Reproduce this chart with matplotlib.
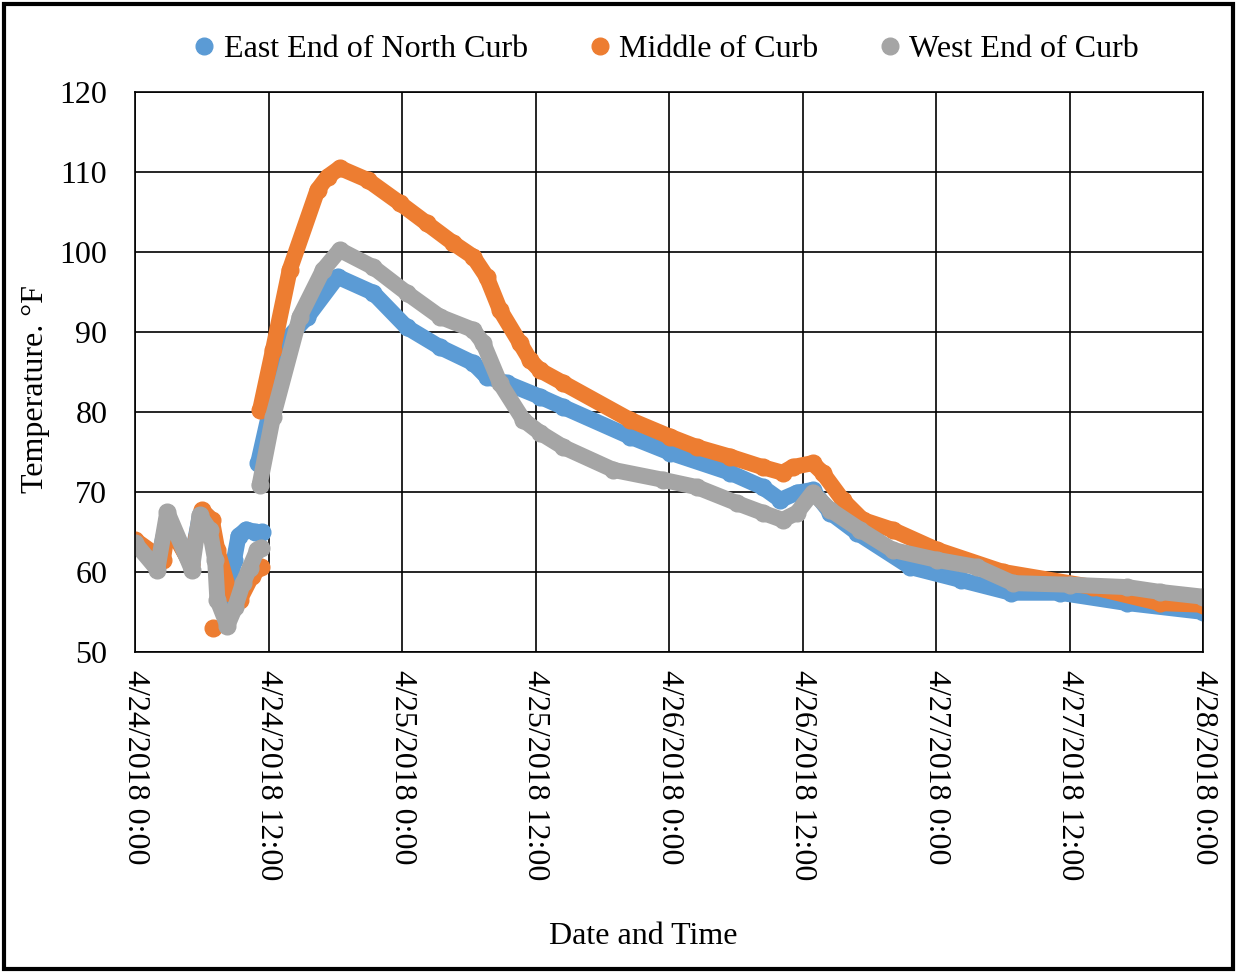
import numpy as np
import matplotlib
matplotlib.use("Agg")
import matplotlib.pyplot as plt
from matplotlib.lines import Line2D
from matplotlib.patches import Rectangle

plt.rcParams['font.family'] = ['Liberation Serif', 'DejaVu Serif']

# hours after 4/24/2018 0:00 (nan = gap in the record)
east_hours = [0, 2.0, 2.9, 5.0, 5.8, 6.4, 7.3, 7.6, 8.4, 8.9, 9.3, 10.0, 10.8, 11.4, np.nan,
              11.06, 12.1, 13.3, 15.5, 18.2, 21.4, 24.4, 27.4, 30.4, 31.6, 33.4, 36.4, 38.5,
              44.5, 48.1, 53.5, 56.4, 58.0, 59.5, 60.9, 62.5, 64.9, 69.7, 74.2, 78.7, 83.1,
              89.2, 96.0]
east_temp = [63.8, 61.0, 66.5, 61.0, 66.8, 67.0, 62.0, 60.0, 57.0, 61.5, 64.5, 65.3, 65.0, 65.0, np.nan,
             73.6, 80.0, 88.6, 91.9, 96.9, 94.9, 90.6, 88.1, 86.1, 84.4, 83.6, 81.9, 80.6,
             76.9, 74.9, 72.4, 70.6, 69.0, 69.9, 70.25, 67.4, 64.9, 60.6, 59.0, 57.4, 57.4,
             56.1, 55.0]

middle_hours = [0, 2.5, 3.0, 5.0, 6.0, 6.9, 7.4, 8.5, 9.4, 10.5, 11.3, np.nan, 7.0, np.nan,
                11.24, 12.4, 13.9, 16.4, 17.3, 18.4, 20.9, 23.8, 26.2, 28.6, 30.4, 31.6, 32.8,
                34.6, 35.5, 36.4, 38.5, 44.5, 48.1, 50.5, 53.5, 56.4, 58.2, 59.1, 60.9, 61.8,
                63.6, 65.4, 68.1, 72.1, 78.0, 86.1, 92.1, 96.0]
middle_temp = [64.0, 61.5, 66.0, 61.0, 67.7, 66.5, 62.7, 57.4, 56.5, 59.5, 60.6, np.nan, 53.0, np.nan,
               80.25, 87.75, 97.75, 107.75, 109.4, 110.5, 109.0, 106.1, 103.6, 101.1, 99.4, 96.9, 92.75,
               88.6, 86.5, 85.2, 83.6, 79.0, 76.9, 75.6, 74.4, 73.1, 72.4, 73.1, 73.6, 72.4,
               69.0, 66.5, 65.25, 62.75, 60.0, 58.1, 56.1, 55.9]

west_hours = [0, 2.0, 2.9, 5.1, 5.8, 6.7, 7.2, 7.4, 8.3, 9.0, 9.7, 10.3, 11.0, 11.3, np.nan,
              11.2, 12.4, 14.8, 16.9, 18.4, 21.4, 24.4, 27.4, 30.4, 31.3, 32.8, 34.9, 36.4,
              38.5, 43.0, 47.5, 50.5, 54.1, 56.4, 58.2, 59.5, 60.9, 62.5, 65.2, 68.1, 72.1,
              75.7, 78.9, 84.0, 89.2, 92.1, 96.0]
west_temp = [63.6, 60.3, 67.5, 60.3, 67.1, 65.3, 61.5, 56.5, 53.3, 55.6, 58.6, 60.5, 62.8, 63.0, np.nan,
             70.9, 79.4, 91.9, 97.75, 100.25, 98.1, 94.9, 91.9, 90.25, 88.6, 83.6, 79.0, 77.4,
             75.6, 72.75, 71.5, 70.6, 68.6, 67.4, 66.5, 67.4, 69.9, 67.75, 65.25, 62.75, 61.5,
             60.6, 58.6, 58.4, 58.1, 57.5, 56.9]

tick_hours = [0, 12, 24, 36, 48, 60, 72, 84, 96]
tick_labels = ["4/24/2018 0:00", "4/24/2018 12:00", "4/25/2018 0:00", "4/25/2018 12:00",
               "4/26/2018 0:00", "4/26/2018 12:00", "4/27/2018 0:00", "4/27/2018 12:00",
               "4/28/2018 0:00"]

series = [("East End of North Curb", east_hours, east_temp, "#5B9BD5"),
          ("Middle of Curb", middle_hours, middle_temp, "#ED7D31"),
          ("West End of Curb", west_hours, west_temp, "#A5A5A5")]

fig = plt.figure(figsize=(12.39, 9.73), dpi=100)
ax = fig.add_axes([0.109, 0.330, 0.862, 0.5755])

for name, h, t, c in series:
    ax.plot(h, t, '-o', color=c, lw=11.5, ms=12, solid_capstyle='round',
            solid_joinstyle='round', label=name)

ax.set_xlim(0, 96)
ax.set_ylim(50, 120)
ax.set_yticks(range(50, 121, 10))
ax.set_xticks(tick_hours)
ax.set_xticklabels(tick_labels, rotation=-90, ha='center', va='top')
ax.tick_params(length=0, labelsize=23)
ax.tick_params(axis='y', pad=20)
ax.tick_params(axis='x', pad=13)
ax.grid(True, color='black', lw=1.2)
ax.set_axisbelow(True)
for s in ax.spines.values():
    s.set_color('black')
    s.set_linewidth(1.2)

ax.set_xlabel("Date and Time", fontsize=23)
ax.xaxis.set_label_coords(0.476, -0.482)
ax.set_ylabel("Temperature. °F", fontsize=23)
ax.yaxis.set_label_coords(-0.08, 0.47)

handles = [Line2D([], [], ls='none', marker='o', color=c, ms=12) for _, _, _, c in series]
fig.legend(handles, [s[0] for s in series], loc='center', bbox_to_anchor=(0.535, 0.949),
           ncol=3, frameon=False, fontsize=23, handletextpad=0.05, columnspacing=1.7,
           handlelength=1.1)

fig.patches.append(Rectangle((0.003, 0.004), 0.992, 0.992, transform=fig.transFigure,
                             fill=False, edgecolor='black', lw=3))

fig.savefig("out.png", dpi=100)
